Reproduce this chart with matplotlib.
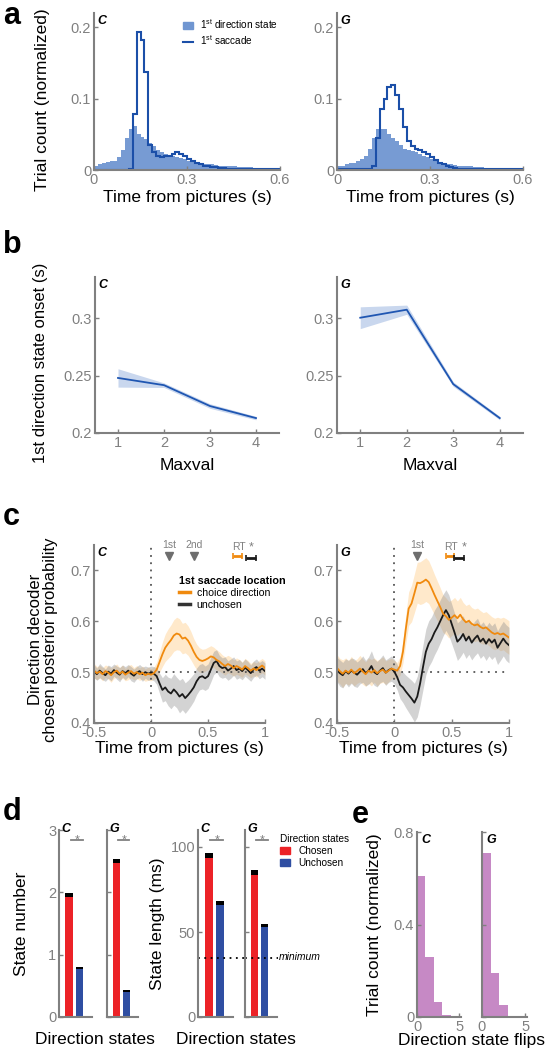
import numpy as np
import matplotlib
matplotlib.use("Agg")
import matplotlib.pyplot as plt
from matplotlib.lines import Line2D
from matplotlib.patches import Patch

plt.rcParams['font.family'] = ['Liberation Sans', 'DejaVu Sans']
plt.rcParams['mathtext.fontset'] = 'custom'
plt.rcParams['mathtext.rm'] = 'Liberation Sans'

GRAY = '#808080'

# ---------------- data ----------------
# panel a: histograms, 0.0125 s bins from 0 to 0.6
bin_w = 0.0125
hist_edges = np.arange(0, 0.6 + bin_w / 2, bin_w)
state_C = [0.005, 0.009, 0.010, 0.011, 0.012, 0.013, 0.018, 0.028, 0.045, 0.058, 0.062, 0.050,
           0.046, 0.043, 0.038, 0.033, 0.028, 0.025, 0.022, 0.020, 0.019, 0.018, 0.017, 0.015,
           0.013, 0.012, 0.011, 0.010, 0.009, 0.008, 0.008, 0.007, 0.006, 0.006, 0.005, 0.005,
           0.005, 0.004, 0.004, 0.004, 0.004, 0.003, 0.003, 0.003, 0.003, 0.003, 0.002, 0.002]
sacc_C = [0, 0, 0, 0, 0, 0, 0, 0, 0, 0.001, 0.078, 0.194,
          0.182, 0.138, 0.035, 0.025, 0.020, 0.018, 0.020, 0.019, 0.022, 0.025, 0.023, 0.020,
          0.015, 0.012, 0.010, 0.008, 0.006, 0.005, 0.004, 0.004, 0.003, 0.003, 0.002, 0.002,
          0.002, 0.0015, 0.0015, 0.001, 0.001, 0.001, 0.001, 0.001, 0.001, 0.001, 0.001, 0.001]
state_G = [0.005, 0.006, 0.008, 0.010, 0.010, 0.012, 0.015, 0.020, 0.030, 0.045, 0.058, 0.058,
           0.057, 0.050, 0.045, 0.040, 0.035, 0.030, 0.028, 0.026, 0.025, 0.022, 0.020, 0.018,
           0.016, 0.013, 0.011, 0.010, 0.009, 0.008, 0.007, 0.006, 0.006, 0.005, 0.005, 0.004,
           0.004, 0.004, 0.003, 0.003, 0.003, 0.003, 0.003, 0.002, 0.002, 0.002, 0.002, 0.002]
sacc_G = [0.001, 0.001, 0.001, 0.001, 0.001, 0.001, 0.001, 0.001, 0.002, 0.005, 0.045, 0.085,
          0.100, 0.117, 0.119, 0.105, 0.085, 0.060, 0.040, 0.033, 0.030, 0.028, 0.025, 0.022,
          0.018, 0.014, 0.010, 0.008, 0.006, 0.004, 0.003, 0.002, 0.002, 0.002, 0.002, 0.002,
          0.001, 0.001, 0.001, 0.001, 0.001, 0.001, 0.001, 0.001, 0.001, 0.001, 0.001, 0.001]

# panel b: onset vs maxval
maxval = [1, 2, 3, 4]
onset_C = [0.248, 0.2417, 0.2235, 0.213]
onset_C_sem = [0.008, 0.002, 0.002, 0.0015]
onset_G = [0.3005, 0.3075, 0.2426, 0.213]
onset_G_sem = [0.0095, 0.004, 0.002, 0.0015]

# panel c: decoder posterior, sampled every 0.025 s from -0.5 to 1.0
t_dec = np.round(np.arange(-0.5, 1.0 + 0.0125, 0.025), 3)
choice_C = [0.503, 0.498, 0.501, 0.496, 0.502, 0.499, 0.494, 0.500, 0.503, 0.497, 0.501, 0.495,
            0.499, 0.502, 0.497, 0.500, 0.496, 0.499, 0.494, 0.497, 0.495,
            0.498, 0.505, 0.520, 0.535, 0.548, 0.556, 0.563, 0.572, 0.576, 0.574,
            0.566, 0.568, 0.562, 0.552, 0.540, 0.530, 0.524, 0.522, 0.524, 0.527,
            0.531, 0.529, 0.524, 0.521, 0.516, 0.512, 0.516, 0.513, 0.508, 0.512,
            0.509, 0.505, 0.512, 0.508, 0.503, 0.507, 0.504, 0.509, 0.513, 0.508]
choice_C_sem = [0.014, 0.013, 0.012, 0.013, 0.012, 0.013, 0.014, 0.012, 0.013, 0.012, 0.013, 0.012,
                0.014, 0.013, 0.012, 0.013, 0.012, 0.013, 0.012, 0.013, 0.012,
                0.012, 0.015, 0.020, 0.024, 0.027, 0.029, 0.030, 0.031, 0.032, 0.031,
                0.030, 0.030, 0.029, 0.028, 0.026, 0.025, 0.024, 0.023, 0.022, 0.022,
                0.021, 0.020, 0.020, 0.019, 0.018, 0.018, 0.017, 0.017, 0.016, 0.016,
                0.016, 0.015, 0.015, 0.015, 0.014, 0.014, 0.014, 0.014, 0.014, 0.014]
unch_C = [0.502, 0.496, 0.503, 0.498, 0.494, 0.501, 0.497, 0.504, 0.499, 0.495, 0.502, 0.498,
          0.503, 0.497, 0.493, 0.499, 0.502, 0.496, 0.500, 0.497, 0.499,
          0.497, 0.492, 0.478, 0.465, 0.470, 0.462, 0.458, 0.466, 0.460, 0.452,
          0.457, 0.449, 0.455, 0.462, 0.470, 0.482, 0.490, 0.492, 0.488, 0.492,
          0.505, 0.518, 0.522, 0.512, 0.508, 0.510, 0.503, 0.507, 0.512, 0.504,
          0.507, 0.502, 0.509, 0.504, 0.498, 0.506, 0.510, 0.503, 0.507, 0.502]
unch_C_sem = [0.013, 0.012, 0.014, 0.013, 0.012, 0.013, 0.014, 0.012, 0.013, 0.014, 0.012, 0.013,
              0.012, 0.014, 0.013, 0.012, 0.013, 0.014, 0.012, 0.013, 0.013,
              0.014, 0.016, 0.020, 0.024, 0.026, 0.028, 0.030, 0.031, 0.030, 0.032,
              0.031, 0.030, 0.029, 0.028, 0.027, 0.026, 0.025, 0.025, 0.024, 0.024,
              0.024, 0.023, 0.022, 0.021, 0.020, 0.020, 0.019, 0.019, 0.018, 0.018,
              0.018, 0.017, 0.017, 0.017, 0.016, 0.016, 0.016, 0.016, 0.016, 0.016]
choice_G = [0.508, 0.502, 0.497, 0.503, 0.499, 0.505, 0.498, 0.502, 0.507, 0.501, 0.496, 0.503,
            0.499, 0.504, 0.498, 0.502, 0.505, 0.499, 0.503, 0.507, 0.505,
            0.503, 0.512, 0.540, 0.585, 0.625, 0.635, 0.655, 0.676, 0.675, 0.678,
            0.682, 0.677, 0.665, 0.652, 0.640, 0.628, 0.615, 0.610, 0.603, 0.607,
            0.612, 0.606, 0.613, 0.604, 0.598, 0.601, 0.595, 0.592, 0.594, 0.589,
            0.586, 0.588, 0.583, 0.578, 0.575, 0.577, 0.574, 0.576, 0.572, 0.568]
choice_G_sem = [0.026, 0.025, 0.027, 0.025, 0.024, 0.026, 0.025, 0.024, 0.026, 0.025, 0.024, 0.025,
                0.026, 0.024, 0.025, 0.024, 0.025, 0.023, 0.022, 0.020, 0.018,
                0.016, 0.018, 0.022, 0.028, 0.033, 0.036, 0.038, 0.040, 0.042, 0.043,
                0.043, 0.042, 0.041, 0.040, 0.039, 0.038, 0.037, 0.036, 0.036, 0.035,
                0.035, 0.034, 0.034, 0.033, 0.033, 0.033, 0.032, 0.032, 0.032, 0.032,
                0.031, 0.031, 0.031, 0.031, 0.031, 0.031, 0.032, 0.032, 0.033, 0.033]
unch_G = [0.505, 0.498, 0.494, 0.502, 0.497, 0.503, 0.499, 0.495, 0.501, 0.506, 0.498, 0.503,
          0.512, 0.500, 0.496, 0.503, 0.508, 0.499, 0.504, 0.507, 0.501,
          0.490, 0.475, 0.470, 0.462, 0.455, 0.448, 0.440, 0.452, 0.478, 0.510,
          0.540, 0.556, 0.565, 0.578, 0.588, 0.600, 0.612, 0.622, 0.612, 0.595,
          0.578, 0.560, 0.566, 0.575, 0.562, 0.570, 0.558, 0.566, 0.572, 0.560,
          0.566, 0.556, 0.565, 0.558, 0.564, 0.548, 0.557, 0.566, 0.558, 0.553]
unch_G_sem = [0.024, 0.026, 0.025, 0.024, 0.026, 0.025, 0.027, 0.025, 0.024, 0.026, 0.025, 0.027,
              0.030, 0.026, 0.025, 0.024, 0.026, 0.025, 0.024, 0.025, 0.024,
              0.025, 0.027, 0.030, 0.032, 0.034, 0.036, 0.038, 0.040, 0.042, 0.044,
              0.045, 0.045, 0.044, 0.044, 0.043, 0.042, 0.041, 0.040, 0.040, 0.039,
              0.038, 0.037, 0.036, 0.036, 0.035, 0.035, 0.034, 0.034, 0.034, 0.033,
              0.033, 0.033, 0.033, 0.033, 0.033, 0.033, 0.034, 0.034, 0.035, 0.035]
# event markers (time of 1st/2nd fixation, RT mean +- sem, significance star)
events_C = {'1st': 0.16, '2nd': 0.375}
events_G = {'1st': 0.2}
rt_C = {'choice': (0.76, 0.04), 'unchosen': (0.875, 0.045), 'star': 0.88}
rt_G = {'choice': (0.485, 0.035), 'unchosen': (0.565, 0.045), 'star': 0.61}

# panel d: state number / length
dir_states = ['Chosen', 'Unchosen']
state_num_C = [1.96, 0.79]
state_num_G = [2.50, 0.42]
state_num_err = [0.03, 0.02]
state_len_C = [95, 67]
state_len_G = [85, 54]
state_len_err = [1.5, 1.0]
min_len = 35

# panel e: direction state flips histogram
flip_edges = [0, 1, 2, 3, 4]
flips_C = [0.61, 0.26, 0.065, 0.01]
flips_G = [0.71, 0.19, 0.05, 0.005]

# ---------------- figure ----------------
fig = plt.figure(figsize=(5.48, 10.5), dpi=100)
W, H = 548.0, 1050.0


def add_ax(x0, x1, y0, y1):
    return fig.add_axes([x0 / W, 1 - y1 / H, (x1 - x0) / W, (y1 - y0) / H])


def style(ax, labelsize=10.5):
    for s in ['top', 'right']:
        ax.spines[s].set_visible(False)
    for s in ['left', 'bottom']:
        ax.spines[s].set_color(GRAY)
        ax.spines[s].set_linewidth(1.5)
    ax.tick_params(direction='in', length=3, width=1, colors=GRAY,
                   labelsize=labelsize, labelcolor=GRAY, pad=2)


def monkey(ax, name, x=0.03, y=0.99, size=9):
    ax.text(x, y, name, transform=ax.transAxes, fontsize=size,
            fontweight='bold', style='italic', va='top', ha='left')


def panel_letter(x, y, s):
    fig.text(x / W, 1 - y / H, s, fontsize=22, fontweight='bold', ha='left', va='center')


LAB = 12.5
FILL_BLUE = '#7096d1'
LINE_BLUE = '#1b4fa8'

# ---- a ----
for (x0, x1), st, sc, name in [((94, 280), state_C, sacc_C, 'C'), ((337, 523), state_G, sacc_G, 'G')]:
    ax = add_ax(x0, x1, 13, 170)
    style(ax)
    ax.stairs(st, hist_edges, fill=True, color=FILL_BLUE, alpha=0.95, lw=0)
    ax.stairs(sc, hist_edges, color=LINE_BLUE, lw=1.5)
    ax.set_xlim(0, 0.6)
    ax.set_ylim(0, 0.22)
    ax.set_xticks([0, 0.3, 0.6], ['0', '0.3', '0.6'])
    ax.set_yticks([0, 0.1, 0.2], ['0', '0.1', '0.2'])
    ax.set_xlabel('Time from pictures (s)', fontsize=LAB, labelpad=2)
    monkey(ax, name, 0.02)
    if name == 'C':
        ax.set_ylabel('Trial count (normalized)', fontsize=LAB)
        ax.yaxis.set_label_coords(-0.235, 0.45)
        h = [Patch(color=FILL_BLUE), Line2D([], [], color=LINE_BLUE, lw=1.5)]
        ax.legend(h, [r'1$^{\rm st}$ direction state', r'1$^{\rm st}$ saccade'],
                  loc='upper left', bbox_to_anchor=(0.43, 1.03), frameon=False,
                  fontsize=7.2, handlelength=1.0, handletextpad=0.7, labelspacing=0.25)
panel_letter(3, 16, 'a')

# ---- b ----
for (x0, x1), m, s, name in [((95, 279), onset_C, onset_C_sem, 'C'), ((337, 523), onset_G, onset_G_sem, 'G')]:
    ax = add_ax(x0, x1, 277, 433)
    style(ax)
    m = np.array(m)
    s = np.array(s)
    ax.fill_between(maxval, m - s, m + s, color='#c9d7ee', lw=0)
    ax.plot(maxval, m, color='#1f56b2', lw=1.3)
    ax.set_xlim(0.5, 4.5)
    ax.set_ylim(0.2, 0.336)
    ax.set_xticks(maxval)
    ax.set_yticks([0.2, 0.25, 0.3], ['0.2', '0.25', '0.3'])
    ax.set_xlabel('Maxval', fontsize=LAB, labelpad=6)
    monkey(ax, name, 0.02)
    if name == 'C':
        ax.set_ylabel('1st direction state onset (s)', fontsize=12)
        ax.yaxis.set_label_coords(-0.255, 0.45)
panel_letter(3, 245, 'b')

# ---- c ----
ORANGE = '#f08a0e'
for (x0, x1), cm, cs, um, us, ev, rt, name in [
        ((94, 265), choice_C, choice_C_sem, unch_C, unch_C_sem, events_C, rt_C, 'C'),
        ((337, 509), choice_G, choice_G_sem, unch_G, unch_G_sem, events_G, rt_G, 'G')]:
    ax = add_ax(x0, x1, 545, 723)
    style(ax)
    cm, cs, um, us = map(np.array, (cm, cs, um, us))
    ax.fill_between(t_dec, cm - cs, cm + cs, color='#ffcf8c', alpha=0.45, lw=0)
    ax.fill_between(t_dec, um - us, um + us, color='#8c8c8c', alpha=0.38, lw=0)
    ax.axvline(0, color='#555555', ls=(0, (1, 3)), lw=1.3)
    ax.plot([0, 1], [0.5, 0.5], color='#555555', ls=(0, (1, 3)), lw=1.3)
    ax.plot(t_dec, um, color='#1a1a1a', lw=1.3)
    ax.plot(t_dec, cm, color=ORANGE, lw=1.3)
    for lab, tx in ev.items():
        ax.plot(tx, 0.729, marker='v', color='#6e6e6e', ms=6, clip_on=False)
        ax.text(tx, 0.741, lab, color=GRAY, fontsize=7.5, ha='center', va='bottom')
    xc, ec = rt['choice']
    xu, eu = rt['unchosen']
    ax.errorbar(xc, 0.729, xerr=ec, color=ORANGE, lw=2, capsize=2, capthick=1.2, clip_on=False)
    ax.errorbar(xu, 0.724, xerr=eu, color='#1a1a1a', lw=2, capsize=2, capthick=1.2, clip_on=False)
    ax.text(xc + 0.01, 0.737, 'RT', color=GRAY, fontsize=7.5, ha='center', va='bottom')
    ax.text(rt['star'], 0.734, '*', color=GRAY, fontsize=9, ha='center', va='bottom')
    ax.set_xlim(-0.5, 1)
    ax.set_ylim(0.4, 0.75)
    ax.set_xticks([-0.5, 0, 0.5, 1], ['-0.5', '0', '0.5', '1'])
    ax.set_yticks([0.4, 0.5, 0.6, 0.7], ['0.4', '0.5', '0.6', '0.7'])
    ax.set_xlabel('Time from pictures (s)', fontsize=LAB, labelpad=1)
    monkey(ax, name, 0.02)
    if name == 'C':
        ax.set_ylabel('Direction decoder\nchosen posterior probability', fontsize=12, linespacing=1.0)
        ax.yaxis.set_label_coords(-0.21, 0.47)
        h = [Line2D([], [], color=ORANGE, lw=2.5), Line2D([], [], color='#333333', lw=2.5)]
        leg = ax.legend(h, ['choice direction', 'unchosen'], title='1st saccade location',
                        loc='upper left', bbox_to_anchor=(0.47, 0.85), frameon=False,
                        fontsize=7.6, title_fontproperties={'weight': 'bold', 'size': 7.8},
                        handlelength=1.1, handletextpad=0.6, labelspacing=0.2,
                        borderaxespad=0)
        leg._legend_box.align = 'left'
panel_letter(3, 517, 'c')

# ---- d ----
RED = '#ec2227'
BLUE = '#2f4ea2'
d_axes = []
for (x0, x1), vals, errs, kind, name in [
        ((59, 92), state_num_C, state_num_err, 'num', 'C'),
        ((107, 138), state_num_G, state_num_err, 'num', 'G'),
        ((198, 233), state_len_C, state_len_err, 'len', 'C'),
        ((245, 277), state_len_G, state_len_err, 'len', 'G')]:
    ax = add_ax(x0, x1, 830, 1017)
    style(ax)
    ax.bar([1, 2], vals, width=0.72, color=[RED, BLUE], lw=0)
    v = np.array(vals)
    e = np.array(errs)
    ax.bar([1, 2], 2 * e, bottom=v - e, width=0.72, color='black', lw=0)
    ax.set_xlim(0.05, 3.2)
    ax.set_xticks([])
    ax.tick_params(axis='x', length=0)
    if kind == 'num':
        ax.set_ylim(0, 3)
        ax.set_yticks([0, 1, 2, 3])
        star_y = 2.84
    else:
        ax.set_ylim(0, 110)
        ax.set_yticks([0, 50, 100])
        star_y = 104
    ax.plot([1.15, 2.3], [star_y, star_y], color=GRAY, lw=1.3)
    ax.text(1.75, star_y, '*', color=GRAY, fontsize=9, ha='center', va='center')
    if name == 'G':
        ax.set_yticklabels([])
    monkey(ax, name, 0.08, 1.04)
    d_axes.append(ax)
d_axes[0].set_ylabel('State number', fontsize=LAB)
d_axes[0].yaxis.set_label_coords(-0.9, 0.5)
d_axes[2].set_ylabel('State length (ms)', fontsize=LAB)
d_axes[2].yaxis.set_label_coords(-0.95, 0.5)
d_axes[2].axhline(min_len, xmin=0, xmax=1.4, color='black', ls=(0, (1, 2.5)), lw=1.3, clip_on=False)
d_axes[3].axhline(min_len, xmin=0, xmax=1.02, color='black', ls=(0, (1, 2.5)), lw=1.3, clip_on=False)
d_axes[3].text(1.07, min_len, 'minimum', transform=d_axes[3].get_yaxis_transform(),
               fontsize=7.5, style='italic', va='center', ha='left')
h = [Patch(color=RED), Patch(color=BLUE)]
leg = d_axes[3].legend(h, dir_states, title='Direction states', loc='upper left',
                       bbox_to_anchor=(0.98, 1.0), frameon=False, fontsize=7.2,
                       title_fontsize=7.2, handlelength=1.0, handleheight=0.8,
                       handletextpad=0.8, labelspacing=0.2, borderaxespad=0)
leg._legend_box.align = 'left'
fig.text(95 / W, 1 - 1040 / H, 'Direction states', fontsize=LAB, ha='center', va='center')
fig.text(236 / W, 1 - 1040 / H, 'Direction states', fontsize=LAB, ha='center', va='center')
panel_letter(3, 812, 'd')

# ---- e ----
PURPLE = '#c689c5'
for (x0, x1), vals, name in [((417, 461), flips_C, 'C'), ((482, 527), flips_G, 'G')]:
    ax = add_ax(x0, x1, 832, 1017)
    style(ax)
    ax.stairs(vals, flip_edges, fill=True, color=PURPLE, lw=0)
    ax.set_xlim(0, 5.2)
    ax.set_ylim(0, 0.8)
    ax.set_xticks([0, 5])
    ax.set_yticks([0, 0.4, 0.8], ['0', '0.4', '0.8'])
    monkey(ax, name, 0.1)
    if name == 'G':
        ax.set_yticklabels([])
    else:
        ax.set_ylabel('Trial count (normalized)', fontsize=LAB)
        ax.yaxis.set_label_coords(-0.8, 0.5)
fig.text(472 / W, 1 - 1040 / H, 'Direction state flips', fontsize=LAB, ha='center', va='center')
panel_letter(352, 815, 'e')

fig.savefig('out.png', dpi=100)
